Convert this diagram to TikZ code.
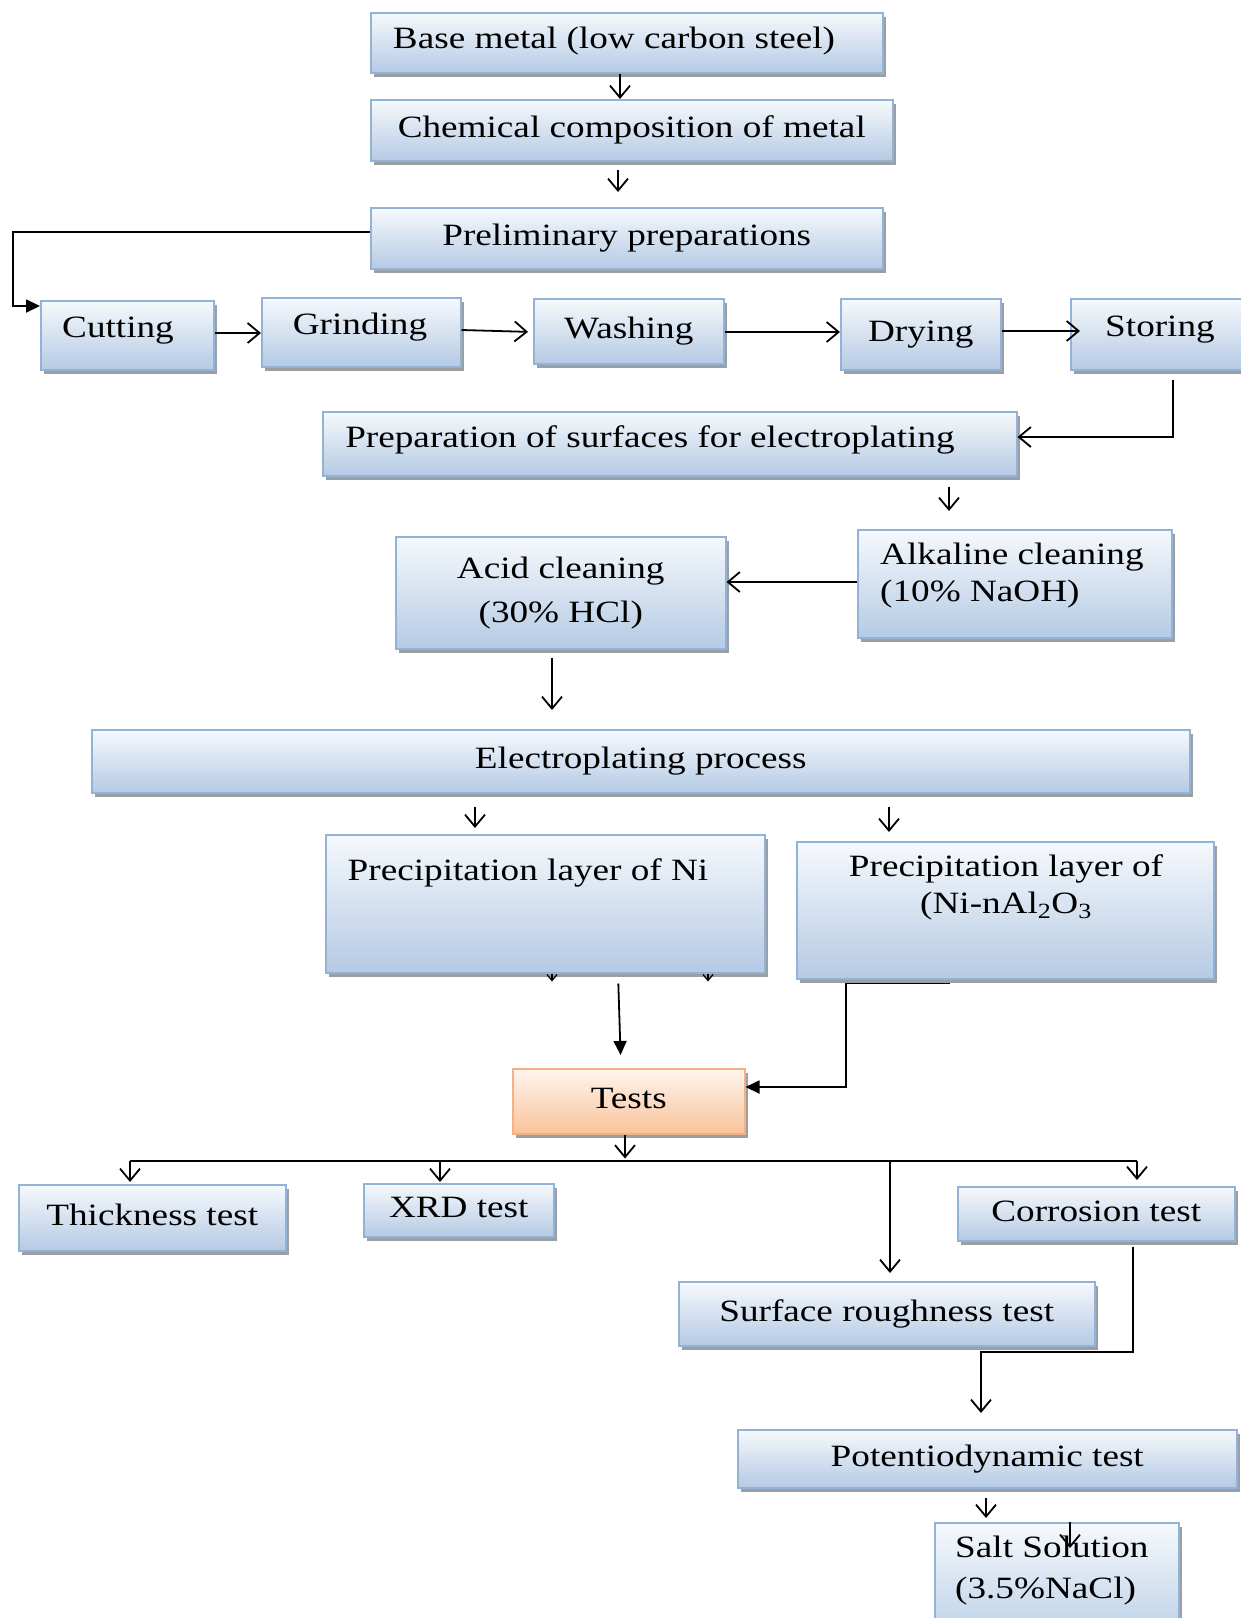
\documentclass[tikz,border=0pt]{standalone}
\usepackage{fontspec}
\setmainfont{Liberation Serif}[FakeStretch=1.2]
\usetikzlibrary{arrows.meta,shadows}
\definecolor{bxtop}{HTML}{F6F9FC}
\definecolor{bxbot}{HTML}{B5CAE4}
\definecolor{bxline}{HTML}{93B2D8}
\definecolor{shd}{HTML}{8A8E94}
\definecolor{ortop}{HTML}{FEF5EE}
\definecolor{orbot}{HTML}{F9C39A}
\definecolor{orline}{HTML}{F4B184}
\begin{document}
\begin{tikzpicture}[x=1pt,y=-1pt,
  box/.style={rectangle, draw=bxline, line width=1.5pt, shading=axis,
    top color=bxtop, bottom color=bxbot, inner sep=0pt, anchor=north west,
    drop shadow={shadow xshift=3pt, shadow yshift=-4pt, fill=shd, opacity=0.85},
    font=\fontsize{31}{37}\selectfont},
  obox/.style={box, draw=orline, top color=ortop, bottom color=orbot},
  one/.style={text height=22pt, text depth=7pt},
  txt/.style={inner sep=0pt, font=\fontsize{31}{37}\selectfont, text height=22pt, text depth=7pt},
  txt2/.style={inner sep=0pt, font=\fontsize{31}{37}\selectfont},
  arr/.style={line width=1.8pt, -{Straight Barb[length=12pt,width=20pt]}},
  farr/.style={line width=1.8pt, -{Triangle[length=14pt,width=13pt]}},
  tinyarr/.style={line width=1.3pt, -{Straight Barb[length=6pt,width=10pt]}},
  plain/.style={line width=1.8pt}]
\useasboundingbox (0,0) rectangle (1241,1618);

% boxes
\node[box,minimum width=512pt,minimum height=60pt] (base) at (370,12) {};
\node[txt] (basetxt) at (614,41) {Base metal (low carbon steel)};
\node[box,one,minimum width=522pt,minimum height=61pt] (chem) at (370,99) {Chemical composition of metal};
\node[box,one,minimum width=512pt,minimum height=61pt] (prelim) at (370,207) {Preliminary preparations};
\node[box,minimum width=173pt,minimum height=69pt] (cutting) at (40,300) {};
\node[txt] (cuttxt) at (118,330) {Cutting};
\node[box,minimum width=199pt,minimum height=69pt] (grinding) at (261,297) {};
\node[txt] (grindtxt) at (360,327) {Grinding};
\node[box,one,minimum width=190pt,minimum height=65pt] (washing) at (533,298) {Washing};
\node[box,one,minimum width=160pt,minimum height=71pt] (drying) at (840,298) {Drying};
\node[box,minimum width=190pt,minimum height=71pt] (storing) at (1070,298) {};
\node[txt] (stortxt) at (1160,329) {Storing};
\node[box,minimum width=694pt,minimum height=64pt] (prep) at (322,411) {};
\node[txt] (preptxt) at (650,440) {Preparation of surfaces for electroplating};
\node[box,minimum width=314pt,minimum height=108pt] (alk) at (857,529) {};
\node[txt2,anchor=west,align=left] (alktxt) at (880,576) {Alkaline cleaning\\(10\% NaOH)};
\node[box,minimum width=330pt,minimum height=112pt,align=center,font=\fontsize{31}{44}\selectfont] (acid) at (395,536) {Acid cleaning\\(30\% HCl)};
\node[box,one,minimum width=1098pt,minimum height=63pt] (electro) at (91,729) {Electroplating process};
\node[box,minimum width=439pt,minimum height=138pt] (pni) at (325,834) {};
\node[txt] (pnitxt) at (528,873) {Precipitation layer of Ni};
\node[box,minimum width=417pt,minimum height=137pt] (pnial) at (796,841) {};
\node[txt2,align=center] (pnialtxt) at (1006,887) {Precipitation layer of\\(Ni-nAl\textsubscript{2}O\textsubscript{3}};
\node[obox,one,minimum width=232pt,minimum height=65pt] (tests) at (512,1068) {Tests};
\node[box,one,minimum width=267pt,minimum height=66pt] (thick) at (18,1184) {Thickness test};
\node[box,one,minimum width=190pt,minimum height=53pt] (xrd) at (363,1183) {XRD test};
\node[box,one,minimum width=277pt,minimum height=54pt] (corr) at (957,1186) {Corrosion test};
\node[box,one,minimum width=416pt,minimum height=64pt] (surf) at (678,1281) {Surface roughness test};
\node[box,one,minimum width=499pt,minimum height=58pt] (poten) at (737,1429) {Potentiodynamic test};
\node[box,minimum width=244pt,minimum height=130pt] (salt) at (934,1522) {};
\node[txt2,anchor=west,align=left,font=\fontsize{31}{41}\selectfont] (salttxt) at (955,1571) {Salt Solution\\(3.5\%NaCl)};

% connectors
\draw[arr] (base.south -| 620,0) -- (chem.north -| 620,0);
\draw[arr, shorten <=8pt, shorten >=15pt] (chem.south -| 618,0) -- (prelim.north -| 618,0);
\draw[farr] (prelim.west |- 0,232) -| (13,306) -- (cutting.west |- 0,306);
\draw[arr] (cutting.east |- 0,333) -- (grinding.west |- 0,333);
\draw[arr, shorten >=5pt] (grinding.east |- 0,330) -- (washing.west |- 0,332);
\draw[arr] (washing.east |- 0,332) -- (drying.west |- 0,332);
\draw[arr, shorten >=-10pt] (drying.east |- 0,331) -- (storing.west |- 0,331);
\draw[arr, shorten <=9pt] (storing.south -| 1173,0) |- (prep.east |- 0,437);
\draw[arr, shorten <=10pt, shorten >=18pt] (prep.south -| 949,0) -- (alk.north -| 949,0);
\draw[arr] (alk.west |- 0,582) -- (acid.east |- 0,582);
\draw[arr, shorten <=8pt, shorten >=19pt] (acid.south -| 552,0) -- (electro.north -| 552,0);
\draw[arr, shorten <=13pt, shorten >=6pt] (electro.south -| 475,0) -- (pni.north -| 475,0);
\draw[arr, shorten <=13pt, shorten >=9pt] (electro.south -| 889,0) -- (pnial.north -| 889,0);
\draw[tinyarr] (pni.south -| 552,0) -- ++(0,8);
\draw[tinyarr] (pni.south -| 708,0) -- ++(0,8);
\draw[farr, shorten <=10pt, shorten >=13pt] (pni.south -| 618,0) -- (tests.north -| 621,0);
\draw[farr] (pnial.south -| 950,0) ++(0,4) -| (846,1087) -- (tests.east |- 0,1087);
\coordinate (busL) at (130,1161);
\coordinate (busR) at (1137,1161);
\draw[arr] (tests.south -| 625,0) -- ++(0,24);
\draw[plain] (busL) -- (busR);
\draw[arr, shorten >=2pt] (busL) -- (thick.north -| busL);
\draw[arr, shorten >=1pt] (busL -| 440,0) -- (xrd.north -| 440,0);
\draw[arr, shorten >=8pt] (busL -| 890,0) -- (surf.north -| 890,0);
\draw[arr, shorten >=6pt] (busR) -- (corr.north -| busR);
\draw[arr, shorten <=5pt, shorten >=16pt] (corr.south -| 1133,0) |- (981,1352) -- (poten.north -| 981,0);
\draw[arr, shorten <=9pt, shorten >=4pt] (poten.south -| 986,0) -- (salt.north -| 986,0);
\draw[arr] (salt.north -| 1070,0) -- ++(0,26);
\end{tikzpicture}
\end{document}
